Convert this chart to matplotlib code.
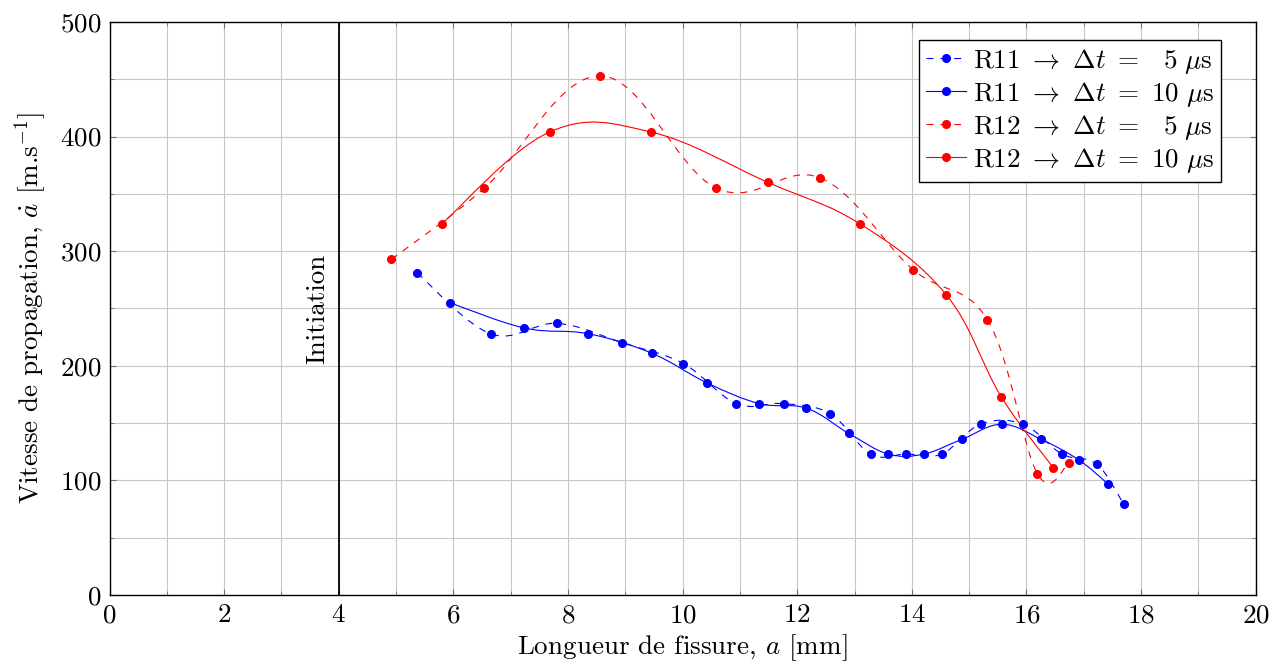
import numpy as np
import matplotlib
matplotlib.use("Agg")
import matplotlib.pyplot as plt
from matplotlib.path import Path
from matplotlib.patches import PathPatch
from matplotlib.lines import Line2D
from matplotlib.ticker import MultipleLocator

# ----------------------------------------------------------------------------
# Data (crack length a [mm], velocity [m/s])
# ----------------------------------------------------------------------------
r11_5_a = [5.37, 6.65, 7.81, 8.95, 10.01, 10.94, 11.77, 12.58, 13.28, 13.90,
           14.52, 15.20, 15.94, 16.62, 17.23, 17.70]
r11_5_v = [281, 228, 237, 220, 202, 167, 167, 158, 123, 123,
           123, 149, 149, 123, 114, 79]

r11_10_a = [5.94, 7.24, 8.35, 9.46, 10.43, 11.34, 12.16, 12.90, 13.59, 14.21,
            14.88, 15.57, 16.25, 16.91, 17.42]
r11_10_v = [255, 233, 228, 211, 185, 167, 163, 141, 123, 123,
            136, 149, 136, 118, 97]

r12_5_a = [4.92, 6.54, 8.56, 10.59, 12.40, 14.02, 15.32, 16.19, 16.74]
r12_5_v = [293, 355, 453, 355, 364, 284, 240, 106, 115]

r12_10_a = [5.80, 7.68, 9.45, 11.49, 13.09, 14.60, 15.56, 16.47]
r12_10_v = [324, 404, 404, 360, 324, 262, 173, 111]

labels = [r"R11$\ \rightarrow\ \Delta t\ =\ \enspace5\ \mu$s",
          r"R11$\ \rightarrow\ \Delta t\ =\ 10\ \mu$s",
          r"R12$\ \rightarrow\ \Delta t\ =\ \enspace5\ \mu$s",
          r"R12$\ \rightarrow\ \Delta t\ =\ 10\ \mu$s"]

a_init = 4

# ----------------------------------------------------------------------------
plt.rcParams["font.family"] = "serif"
plt.rcParams["font.serif"] = ["cmr10"]
plt.rcParams["mathtext.fontset"] = "cm"
plt.rcParams["axes.formatter.use_mathtext"] = True
plt.rcParams["lines.scale_dashes"] = False

FS = 19.5
DASH = (0, (5, 5))


def smooth_path(x, y, tension=0.55):
    """TikZ-like 'smooth' curve through the points, as cubic Bezier segments."""
    k = tension / 3.0
    p = np.column_stack([x, y]).astype(float)
    n = len(p)
    verts = [p[0]]
    codes = [Path.MOVETO]
    for i in range(n - 1):
        p0 = p[i - 1] if i > 0 else p[i]
        p3 = p[i + 2] if i + 2 < n else p[i + 1]
        c1 = p[i] + (p[i + 1] - p0) * k
        c2 = p[i + 1] - (p3 - p[i]) * k
        verts += [c1, c2, p[i + 1]]
        codes += [Path.CURVE4] * 3
    return Path(verts, codes)


fig = plt.figure(figsize=(12.86, 6.67), dpi=100)
ax = fig.add_axes([109.5 / 1286, 1 - 595 / 667, (1255.7 - 109.5) / 1286, (595 - 22) / 667])

series = [
    (r11_5_a, r11_5_v, "blue", DASH),
    (r11_10_a, r11_10_v, "blue", "-"),
    (r12_5_a, r12_5_v, "red", DASH),
    (r12_10_a, r12_10_v, "red", "-"),
]

handles = []
for (a, v, c, ls), lab in zip(series, labels):
    ax.add_patch(PathPatch(smooth_path(a, v), facecolor="none", edgecolor=c,
                           lw=0.8, linestyle=ls, zorder=3))
    ax.plot(a, v, linestyle="none", marker="o", ms=5.5, color=c, zorder=4)
    handles.append(Line2D([], [], color=c, lw=0.8, linestyle=ls,
                          marker="o", ms=5.5, label=lab))

# initiation line
ax.axvline(a_init, color="black", lw=1.3, zorder=5)
ax.annotate("Initiation", xy=(a_init, 250), xytext=(-6.5, 0),
            textcoords="offset points", rotation=90, ha="right", va="center",
            fontsize=FS)

ax.set_xlim(0, 20)
ax.set_ylim(0, 500)
ax.xaxis.set_major_locator(MultipleLocator(2))
ax.xaxis.set_minor_locator(MultipleLocator(1))
ax.yaxis.set_major_locator(MultipleLocator(100))
ax.yaxis.set_minor_locator(MultipleLocator(50))
ax.grid(True, which="both", color="0.78", lw=0.8, zorder=0)
ax.set_axisbelow(True)
ax.tick_params(which="both", direction="in", top=True, right=True,
               color="0.45", labelsize=FS, pad=6)
ax.tick_params(which="major", length=4)
ax.tick_params(which="minor", length=3)
for s in ax.spines.values():
    s.set_linewidth(1.0)

ax.set_xlabel(r"Longueur de fissure, $a$ [mm]", fontsize=FS, labelpad=4)
ax.set_ylabel(r"Vitesse de propagation, $\dot{a}$ [m.s$^{-1}$]", fontsize=FS, labelpad=8)

leg = ax.legend(handles=handles, loc="upper right",
                bbox_to_anchor=(1221 / 1286, 1 - 40 / 667),
                bbox_transform=fig.transFigure, borderaxespad=0,
                fontsize=FS, frameon=True, fancybox=False, framealpha=1,
                edgecolor="black", handlelength=1.5, handletextpad=0.25,
                labelspacing=0.15, borderpad=0.25)
leg.get_frame().set_linewidth(1.0)

fig.savefig("out.png", dpi=100)
